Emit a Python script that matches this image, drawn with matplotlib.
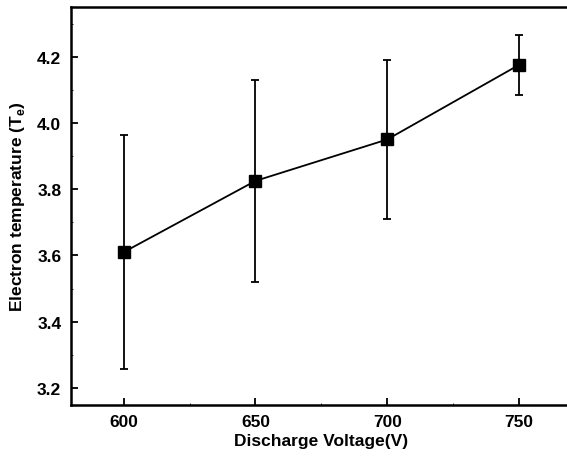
import matplotlib.pyplot as plt

voltage = [600, 650, 700, 750]
te = [3.61, 3.825, 3.95, 4.175]
te_err = [0.354, 0.305, 0.24, 0.09]

plt.rcParams['font.family'] = ['Liberation Sans', 'DejaVu Sans']
plt.rcParams['font.weight'] = 'bold'

fig = plt.figure(figsize=(5.67, 4.64), dpi=100)
ax = fig.add_axes([0.1252, 0.1259, 0.883, 0.857])

ax.errorbar(voltage, te, yerr=te_err, color='black', linewidth=1.3,
            elinewidth=1.3, capsize=3, capthick=1.3,
            marker='s', markersize=8.5)

ax.set_xlim(580, 770)
ax.set_ylim(3.15, 4.35)
ax.set_xticks([600, 650, 700, 750])
ax.set_xticks([625, 675, 725], minor=True)
ax.set_yticks([3.2, 3.4, 3.6, 3.8, 4.0, 4.2])
ax.set_yticks([3.3, 3.5, 3.7, 3.9, 4.1, 4.3], minor=True)
ax.tick_params(which='major', direction='in', length=5, width=1.3, labelsize=12.5, pad=7)
ax.tick_params(which='minor', direction='in', length=1.5, width=0.6)
for s in ax.spines.values():
    s.set_linewidth(1.8)

ax.set_xlabel('Discharge Voltage(V)', fontsize=12.5, fontweight='bold', labelpad=3)
ax.set_ylabel('Electron temperature (T$_\\mathregular{e}$)', fontsize=12.5, fontweight='bold', labelpad=7)

fig.savefig('out.png', dpi=100)
